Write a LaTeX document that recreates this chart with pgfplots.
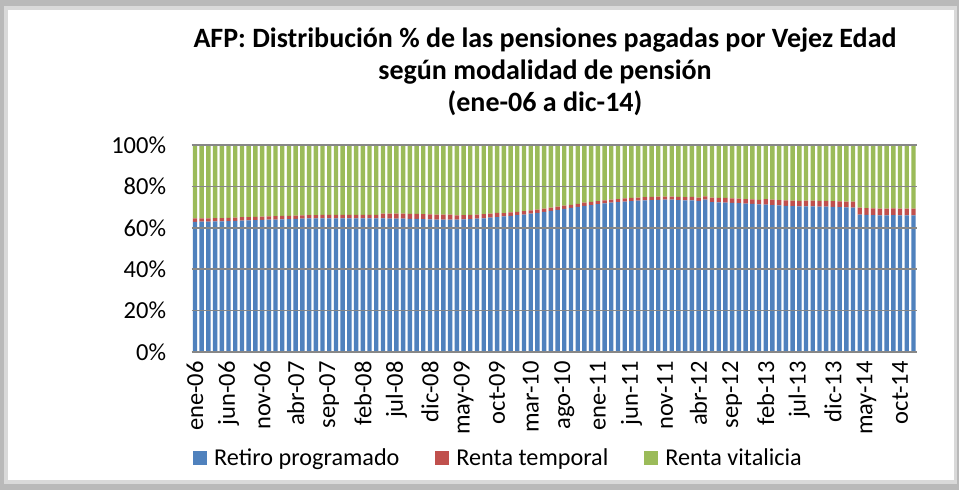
\documentclass[border=0pt]{standalone}
\usepackage{pgfplots}
\usepackage{pgfplotstable}
\pgfplotsset{compat=1.18}
\usepackage{fontspec}
\setmainfont{Carlito}
\definecolor{cblue}{HTML}{4F81BD}
\definecolor{cred}{HTML}{C0504D}
\definecolor{cgreen}{HTML}{9BBB59}
\definecolor{cgrid}{HTML}{878787}
\pgfplotstableread{
i B R G
0 62.9 1.6 35.5
1 63.0 1.6 35.4
2 63.0 1.6 35.4
3 63.1 1.6 35.3
4 63.1 1.6 35.3
5 63.2 1.6 35.2
6 63.3 1.6 35.1
7 63.5 1.6 34.9
8 63.6 1.6 34.8
9 63.7 1.6 34.7
10 63.8 1.6 34.6
11 63.9 1.6 34.5
12 64.0 1.6 34.4
13 64.1 1.6 34.3
14 64.2 1.6 34.2
15 64.3 1.6 34.1
16 64.4 1.6 34.0
17 64.5 1.6 33.9
18 64.5 1.6 33.9
19 64.6 1.6 33.8
20 64.6 1.6 33.8
21 64.6 1.6 33.8
22 64.6 1.6 33.8
23 64.6 1.6 33.8
24 64.6 1.6 33.8
25 64.6 1.6 33.8
26 64.6 1.6 33.8
27 64.5 1.7 33.8
28 64.5 2.4 33.1
29 64.4 2.4 33.2
30 64.4 2.4 33.2
31 64.4 2.4 33.2
32 64.3 2.4 33.3
33 64.3 2.4 33.3
34 64.2 2.4 33.4
35 64.1 2.4 33.5
36 64.0 2.4 33.6
37 64.0 2.4 33.6
38 64.0 2.4 33.6
39 64.0 2.0 34.0
40 64.1 2.0 33.9
41 64.2 2.0 33.8
42 64.4 2.0 33.6
43 64.6 2.0 33.4
44 64.9 2.0 33.1
45 65.2 2.0 32.8
46 65.5 1.6 32.9
47 65.8 1.6 32.6
48 66.1 1.6 32.3
49 66.4 1.6 32.0
50 66.8 1.6 31.6
51 67.2 1.6 31.2
52 67.7 1.6 30.7
53 68.2 1.6 30.2
54 68.6 1.6 29.8
55 69.1 1.6 29.3
56 69.6 1.5 28.9
57 70.1 1.5 28.4
58 70.6 1.5 27.9
59 71.0 1.5 27.5
60 71.4 1.5 27.1
61 71.8 1.5 26.7
62 72.1 1.5 26.4
63 72.4 1.5 26.1
64 72.7 1.5 25.8
65 72.9 1.5 25.6
66 73.1 1.5 25.4
67 73.3 1.5 25.2
68 73.4 1.5 25.1
69 73.5 1.5 25.0
70 73.6 1.5 24.9
71 73.6 1.5 24.9
72 73.4 1.5 25.1
73 73.2 1.6 25.2
74 73.3 1.6 25.1
75 73.0 1.6 25.4
76 73.6 1.6 24.8
77 72.4 2.2 25.4
78 72.3 2.2 25.5
79 72.2 2.2 25.6
80 72.0 2.2 25.8
81 71.9 2.2 25.9
82 71.7 2.2 26.1
83 71.5 2.2 26.3
84 71.3 2.2 26.5
85 71.2 2.6 26.2
86 71.0 2.6 26.4
87 70.8 2.6 26.6
88 70.6 2.6 26.8
89 70.5 2.6 26.9
90 70.4 2.6 27.0
91 70.3 2.8 26.9
92 70.3 2.8 26.9
93 70.2 2.8 27.0
94 70.2 2.8 27.0
95 70.1 2.8 27.1
96 70.0 2.8 27.2
97 69.9 2.8 27.3
98 69.8 2.8 27.4
99 66.4 3.3 30.3
100 66.2 3.3 30.5
101 66.1 3.3 30.6
102 66.0 3.3 30.7
103 66.0 3.3 30.7
104 66.1 3.3 30.6
105 66.0 3.3 30.7
106 66.0 3.3 30.7
107 66.0 3.3 30.7
}\datatable
\begin{document}
\begin{tikzpicture}[x=1bp,y=1bp]
\path[use as bounding box] (0,0) rectangle (959,490);
\fill[gray!55] (0,0) rectangle (959,490);
\fill[gray!30] (4,6) rectangle (957,484);
\fill[white] (8,10) rectangle (954,480);
\node[font=\fontsize{28bp}{32bp}\selectfont\bfseries, align=center] at (545,418)
  {AFP: Distribución \% de las pensiones pagadas por Vejez Edad\\según modalidad de pensión\\(ene-06 a dic-14)};
\begin{axis}[
  at={(191.6bp,138bp)}, anchor=south west,
  scale only axis, width=725.2bp, height=207bp,
  ybar stacked, bar width=4.4bp,
  xmin=-0.5, xmax=107.5, ymin=0, ymax=100,
  axis line style={draw=none},
  tick style={draw=none},
  axis on top,
  ymajorgrids, major grid style={draw=cgrid, line width=1.6bp},
  ytick={0,20,40,60,80,100},
  yticklabel={\pgfmathprintnumber{\tick}\%},
  yticklabel shift=22bp,
  xtick={0,5,...,105},
  xticklabels={ene-06,jun-06,nov-06,abr-07,sep-07,feb-08,jul-08,dic-08,may-09,oct-09,mar-10,ago-10,ene-11,jun-11,nov-11,abr-12,sep-12,feb-13,jul-13,dic-13,may-14,oct-14},
  xticklabel style={rotate=90, anchor=east, inner sep=0pt},
  xticklabel shift=9bp,
  ticklabel style={font=\fontsize{24.5bp}{28bp}\selectfont},
  /pgf/number format/assume math mode=true,
  legend columns=3,
  legend style={draw=none, fill=none, at={(axis description cs:0.002,-0.512)}, anchor=west,
    font=\fontsize{24.2bp}{28bp}\selectfont, inner sep=0pt,
    /tikz/every even column/.append style={column sep=34bp},
    /tikz/every odd column/.append style={column sep=5bp}},
  legend image code/.code={\fill[#1] (0bp,-7bp) rectangle (14bp,7bp);},
]
\addplot[fill=cblue, draw=none] table[x=i, y=B] {\datatable};
\addplot[fill=cred, draw=none] table[x=i, y=R] {\datatable};
\addplot[fill=cgreen, draw=none] table[x=i, y=G] {\datatable};
\legend{Retiro programado, Renta temporal, Renta vitalicia}
\end{axis}
\end{tikzpicture}
\end{document}
